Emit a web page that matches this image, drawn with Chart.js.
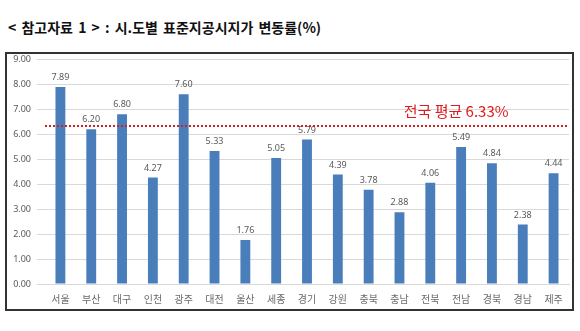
<!DOCTYPE html>
<html>
<head>
<meta charset="utf-8">
<script src="https://cdn.jsdelivr.net/npm/chart.js@4"></script>
<style>
  body { margin: 0; background: #fff; width: 580px; height: 331px; position: relative; overflow: hidden; }
  #title {
    position: absolute; left: 8px; top: 17px;
    font-family: "Noto Sans CJK KR", sans-serif; font-weight: bold; font-size: 14px; color: #111;
    word-spacing: 2px;
  }
  #box {
    position: absolute; left: 5px; top: 52px; width: 565px; height: 255px;
    border: 2px solid #333;
  }
  #wrap { position: absolute; left: 7px; top: 48px; width: 565px; height: 262px; }
</style>
</head>
<body>
<div id="title">&lt; 참고자료 1 &gt; : 시.도별 표준지공시지가 변동률(%)</div>
<div id="box"></div>
<div id="wrap"><canvas id="rateChart"></canvas></div>
<script>
const regions = ["서울", "부산", "대구", "인천", "광주", "대전", "울산", "세종", "경기", "강원", "충북", "충남", "전북", "전남", "경북", "경남", "제주"];
const rates = [7.89, 6.20, 6.80, 4.27, 7.60, 5.33, 1.76, 5.05, 5.79, 4.39, 3.78, 2.88, 4.06, 5.49, 4.84, 2.38, 4.44];
const nationalAvg = 6.33;
const avgLabel = "전국 평균 6.33%";

const ctx = document.getElementById("rateChart").getContext("2d");

// value labels above bars + national average dotted line
const extras = {
  id: "extras",
  afterDatasetsDraw(chart) {
    const { ctx, scales } = chart;
    const meta = chart.getDatasetMeta(0);
    ctx.save();
    ctx.font = "9px 'Noto Sans', sans-serif";
    ctx.fillStyle = "#595959";
    ctx.textAlign = "center";
    ctx.textBaseline = "bottom";
    meta.data.forEach((bar, i) => {
      ctx.fillText(rates[i].toFixed(2), bar.x, bar.y - 5);
    });

    const y = scales.y.getPixelForValue(nationalAvg);
    ctx.strokeStyle = "#d42020";
    ctx.lineWidth = 2;
    ctx.setLineDash([2, 2]);
    ctx.beginPath();
    ctx.moveTo(chart.chartArea.left, y);
    ctx.lineTo(chart.chartArea.right, y);
    ctx.stroke();
    ctx.setLineDash([]);

    ctx.font = "15px 'Noto Sans CJK KR', sans-serif";
    ctx.fillStyle = "#e01b1b";
    ctx.textAlign = "center";
    ctx.textBaseline = "middle";
    ctx.fillText(avgLabel, scales.x.getPixelForValue(13) - 5, y - 15);
    ctx.restore();
  },
};

new Chart(ctx, {
  type: "bar",
  data: {
    labels: regions,
    datasets: [
      {
        data: rates,
        backgroundColor: "#4a7ebb",
        categoryPercentage: 1,
        barPercentage: 0.32,
      },
    ],
  },
  options: {
    responsive: true,
    maintainAspectRatio: false,
    animation: false,
    layout: { padding: { top: 2, right: 3, left: 0, bottom: 4 } },
    plugins: {
      legend: { display: false },
      tooltip: { enabled: false },
    },
    scales: {
      x: {
        grid: { display: false },
        border: { color: "#d9d9d9" },
        ticks: {
          color: "#6a6a6a",
          font: { size: 10, family: "'Noto Sans CJK KR', sans-serif" },
          padding: 1,
        },
      },
      y: {
        min: 0,
        max: 9,
        afterFit: (s) => { s.width = 38; },
        grid: { color: "#d9d9d9" },
        border: { display: false },
        ticks: {
          stepSize: 1,
          color: "#595959",
          font: { size: 9, family: "'Noto Sans', sans-serif" },
          callback: (v) => v.toFixed(2),
          padding: 6,
        },
      },
    },
  },
  plugins: [extras],
});
</script>
</body>
</html>
